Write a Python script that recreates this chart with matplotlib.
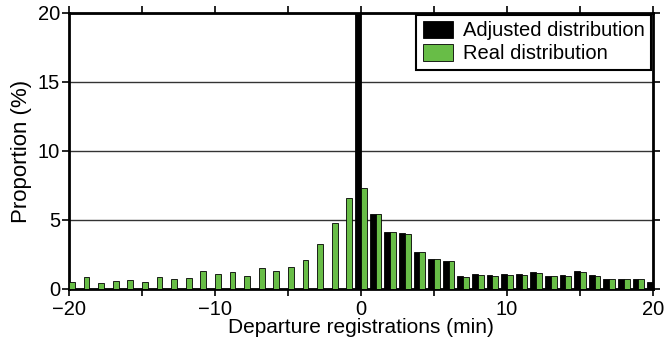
import matplotlib
matplotlib.use("Agg")
import matplotlib.pyplot as plt
import numpy as np

plt.rcParams['font.family'] = ['Liberation Sans', 'DejaVu Sans']

minutes = list(range(-20, 21))
real = [0.50, 0.90, 0.46, 0.60, 0.65, 0.53, 0.90, 0.70, 0.82, 1.28,
        1.06, 1.20, 0.96, 1.55, 1.32, 1.61, 2.09, 3.29, 4.77, 6.57,
        7.30, 5.40, 4.10, 4.00, 2.65, 2.15, 2.00, 0.90, 1.00, 0.92,
        1.05, 1.00, 1.15, 0.94, 0.97, 1.25, 0.93, 0.73, 0.75, 0.72,
        0.50]
adjusted = [0]*20 + [60.0, 5.44, 4.12, 4.04, 2.70, 2.17, 2.05, 0.97, 1.06, 0.99,
                     1.06, 1.06, 1.20, 0.94, 1.00, 1.28, 0.98, 0.75, 0.75, 0.75,
                     0.48]

fig = plt.figure(figsize=(6.67, 3.42), dpi=100)
ax = fig.add_axes([0.1034, 0.155, 0.8756, 0.807])

x = np.array(minutes)
w = 0.4
ax.bar(x - w/2, adjusted, width=w, color='black', edgecolor='black', linewidth=0.6,
       label='Adjusted distribution', zorder=3)
ax.bar(x + w/2, real, width=w, color='#68bd47', edgecolor='black', linewidth=0.6,
       label='Real distribution', zorder=3)

ax.set_xlim(-20, 20)
ax.set_ylim(0, 20)
ax.set_xticks([-20, -15, -10, -5, 0, 5, 10, 15, 20])
ax.set_xticklabels(['\u221220', '', '\u221210', '', '0', '', '10', '', '20'])
ax.set_yticks([0, 5, 10, 15, 20])
ax.yaxis.grid(True, color='#333333', linewidth=1.0, zorder=0)
ax.set_axisbelow(True)
ax.tick_params(axis='both', direction='out', length=5, width=1.2, labelsize=14.5,
               top=True, right=True)
ax.tick_params(axis='y', pad=1.5)
ax.tick_params(axis='x', pad=3)
for s in ax.spines.values():
    s.set_linewidth(2.0)
ax.set_xlabel('Departure registrations (min)', fontsize=15, labelpad=-1)
ax.set_ylabel('Proportion (%)', fontsize=16, labelpad=4)

leg = ax.legend(loc='upper right', fontsize=14.5, frameon=True, fancybox=False,
                edgecolor='black', framealpha=1, borderpad=0.3, handlelength=1.5,
                handleheight=0.85, handletextpad=0.5, labelspacing=0.2,
                borderaxespad=0.12)
leg.get_frame().set_linewidth(1.5)

fig.savefig('out.png', dpi=100)
